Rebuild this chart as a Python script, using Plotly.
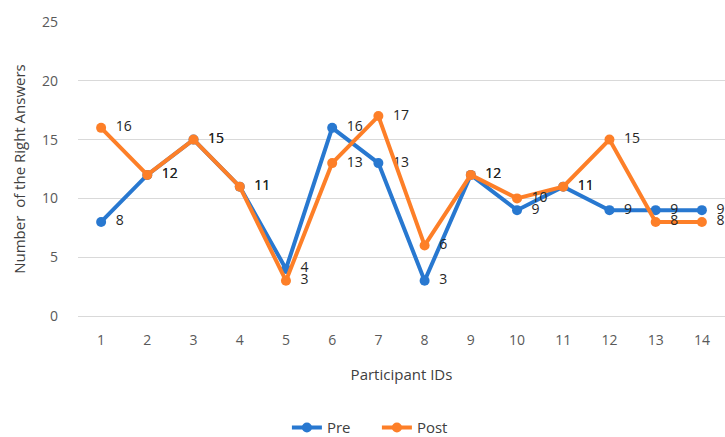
import plotly.graph_objects as go

participants = [str(i) for i in range(1, 15)]
pre = [8, 12, 15, 11, 4, 16, 13, 3, 12, 9, 11, 9, 9, 9]
post = [16, 12, 15, 11, 3, 13, 17, 6, 12, 10, 11, 15, 8, 8]
y_ticks = [0, 5, 10, 15, 20, 25]

blue = "#2878d0"
orange = "#fd7f28"
font_family = "Open Sans, Liberation Sans, Arial, sans-serif"

fig = go.Figure()
fig.add_trace(go.Scatter(
    x=participants, y=pre, name="Pre", mode="lines+markers+text",
    line=dict(color=blue, width=4), marker=dict(color=blue, size=10),
    text=["  " + str(v) for v in pre], textposition="middle right",
    textfont=dict(color="#262626", size=14, family=font_family),
    cliponaxis=False,
))
fig.add_trace(go.Scatter(
    x=participants, y=post, name="Post", mode="lines+markers+text",
    line=dict(color=orange, width=4), marker=dict(color=orange, size=10),
    text=["  " + str(v) for v in post], textposition="middle right",
    textfont=dict(color="#262626", size=14, family=font_family),
    cliponaxis=False,
))

fig.update_layout(
    width=725, height=437,
    margin=dict(l=78, r=0, t=22, b=121),
    paper_bgcolor="white", plot_bgcolor="white",
    font=dict(family=font_family, size=13, color="#595959"),
    showlegend=True,
    legend=dict(orientation="h", x=0.462, xanchor="center", xref="paper",
                y=0.021, yanchor="middle", yref="container",
                entrywidth=45, entrywidthmode="pixels",
                font=dict(size=15, color="#404040"), traceorder="normal"),
    xaxis=dict(
        type="category", range=[-0.5, 13.5], automargin=False,
        title=dict(text="Participant IDs", font=dict(size=15, color="#404040"), standoff=21),
        showgrid=False, showline=True, linecolor="#d9d9d9", linewidth=1,
        ticks="", tickfont=dict(size=14, color="#595959"), ticklabelstandoff=11,
    ),
    yaxis=dict(
        range=[0, 25], tickvals=y_ticks, automargin=False,
        title=dict(text="Number  of the Right Answers", font=dict(size=15, color="#404040"), standoff=12),
        showgrid=True, gridcolor="#d9d9d9", gridwidth=1, zeroline=True, zerolinecolor="#d9d9d9",
        showline=False, ticks="", tickfont=dict(size=14, color="#595959"), ticklabelstandoff=19,
    ),
)

fig.write_html("out.html", config={"displayModeBar": False},
               post_script="document.body.style.margin='0';")
